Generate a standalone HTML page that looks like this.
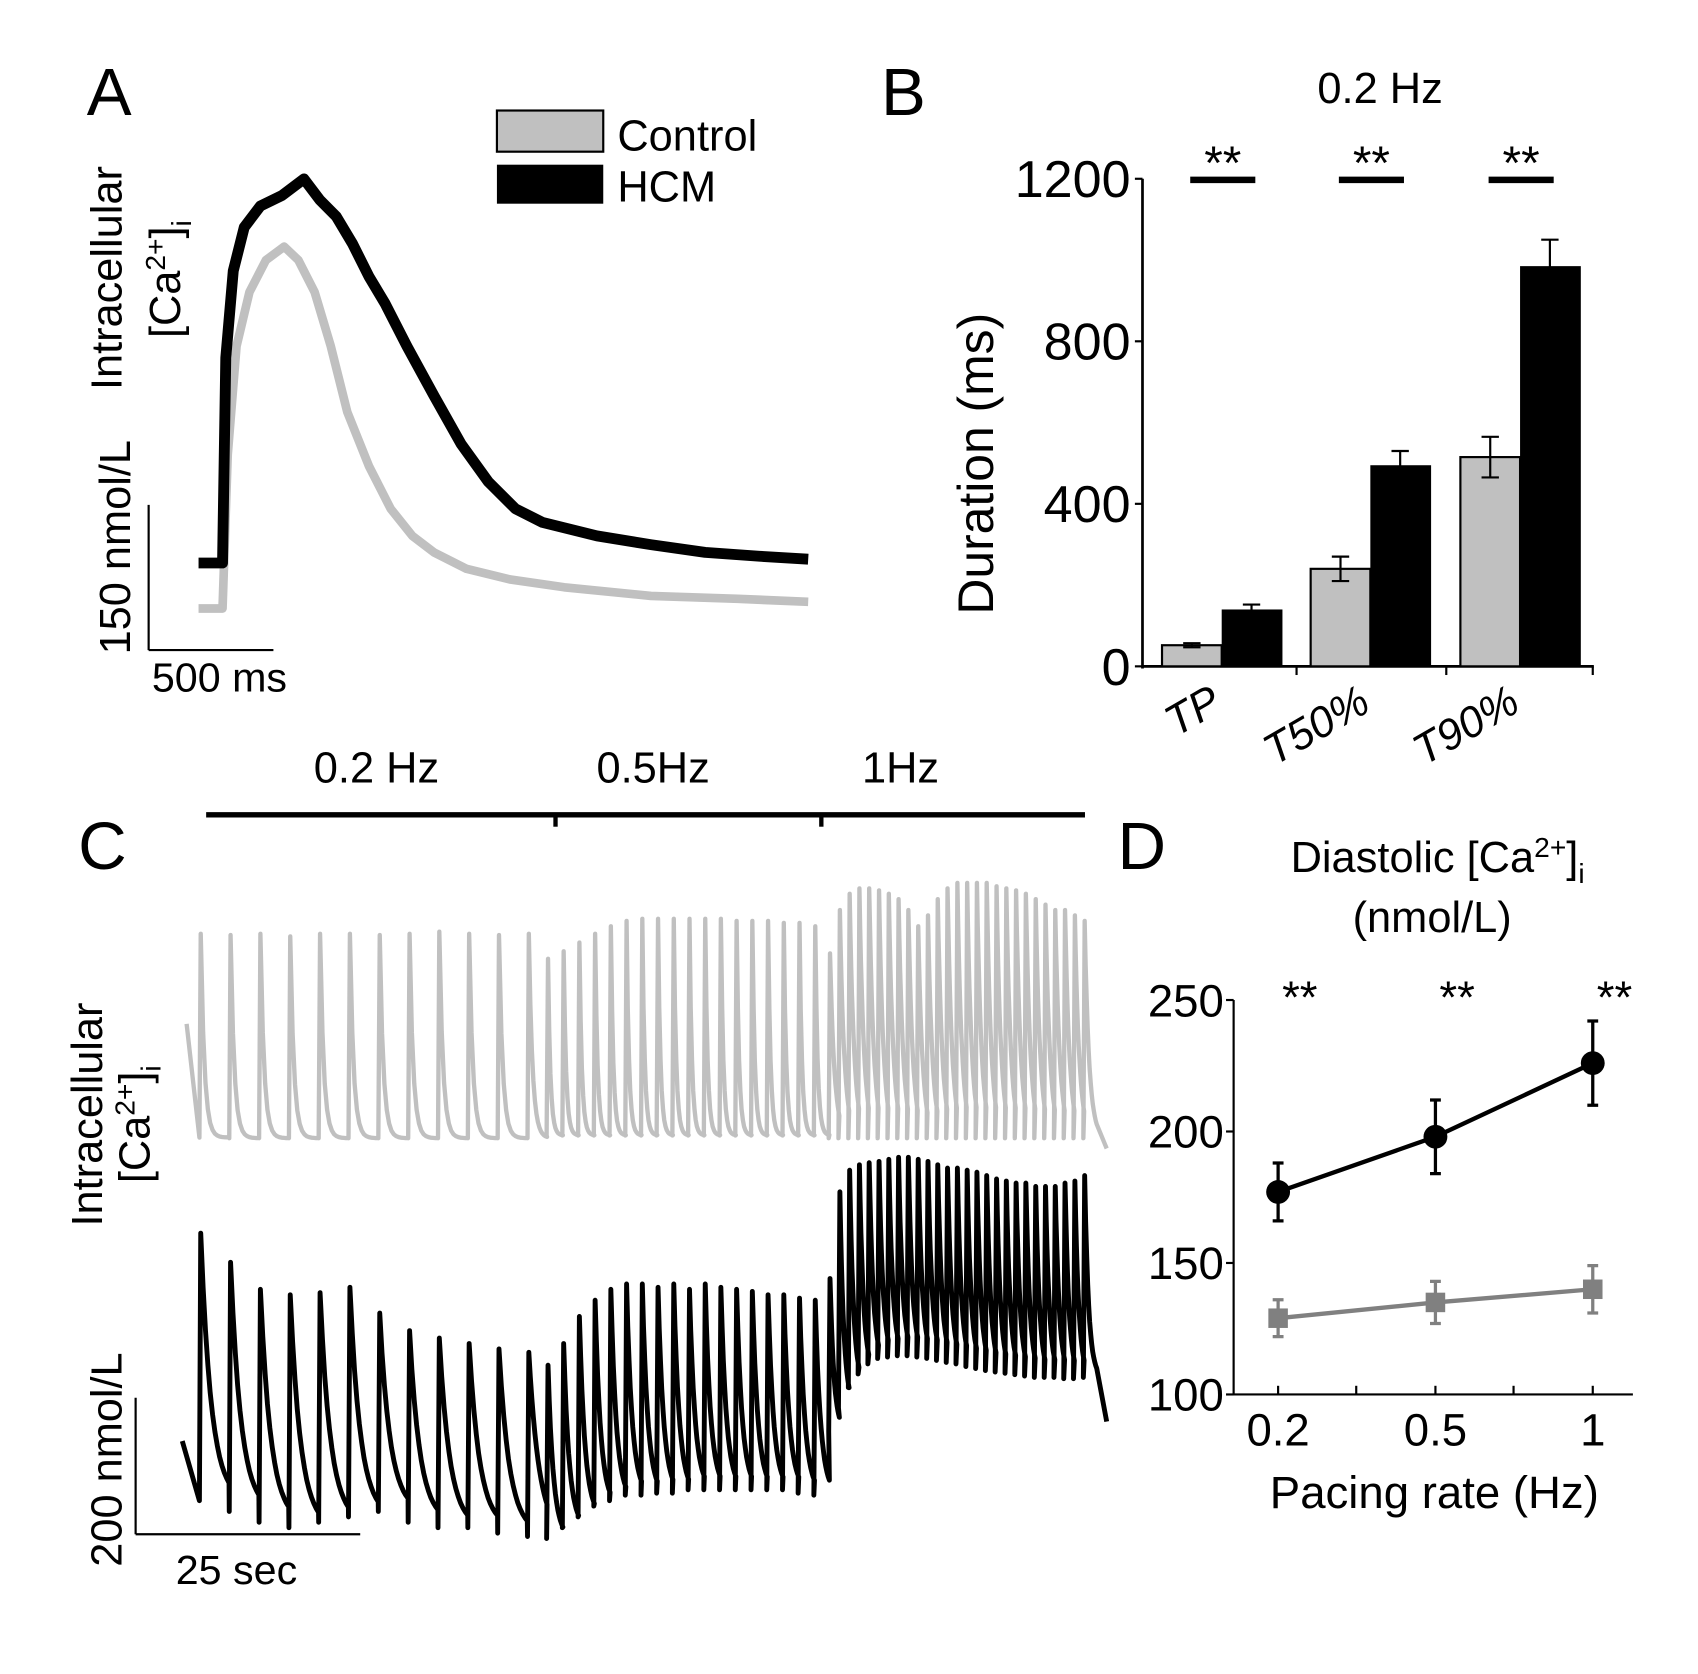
<!DOCTYPE html>
<html><head><meta charset="utf-8"><style>
html,body{margin:0;padding:0;background:#fff}
svg{display:block}
text{font-family:"Liberation Sans",Arial,sans-serif;fill:#000}
</style></head><body>
<svg id="fig" width="1698" height="1674" viewBox="0 0 1565 1545" preserveAspectRatio="none" xmlns="http://www.w3.org/2000/svg">
<rect x="0" y="0" width="1565" height="1545" fill="#fff"/>
<!-- Panel A -->
<g>
<text x="80" y="106" font-size="62">A</text>
<rect x="458" y="102" width="98" height="38" fill="#c0c0c0" stroke="#000" stroke-width="2"/>
<text x="569" y="139" font-size="40">Control</text>
<rect x="458" y="152" width="98" height="36" fill="#000"/>
<text x="569" y="186" font-size="40">HCM</text>
<g id="traceA"></g>
<line x1="137" y1="466" x2="137" y2="600" stroke="#000" stroke-width="2"/>
<line x1="137" y1="600" x2="252" y2="600" stroke="#000" stroke-width="2"/>
<text x="140" y="638" font-size="38">500 ms</text>
<text transform="translate(120,604) rotate(-90)" font-size="40">150 nmol/L</text>
<text transform="translate(112,360) rotate(-90)" font-size="40">Intracellular</text>
<text transform="translate(166,312) rotate(-90)" font-size="40">[Ca<tspan font-size="26" dy="-14">2+</tspan><tspan dy="14">]</tspan><tspan font-size="26" dy="10">i</tspan></text>
</g>
<!-- Panel B -->
<g>
<text x="812" y="106" font-size="62">B</text>
<text x="1272" y="95" font-size="40" text-anchor="middle">0.2 Hz</text>
<g id="chartB"></g>
<text transform="translate(915,428) rotate(-90)" font-size="46" text-anchor="middle">Duration (ms)</text>
</g>
<!-- Panel C -->
<g>
<text x="72" y="802" font-size="62">C</text>
<line x1="190" y1="752" x2="1000" y2="752" stroke="#000" stroke-width="5"/>
<line x1="512" y1="750" x2="512" y2="763" stroke="#000" stroke-width="4"/>
<line x1="757" y1="750" x2="757" y2="763" stroke="#000" stroke-width="4"/>
<text x="347" y="722" font-size="40" text-anchor="middle">0.2 Hz</text>
<text x="602" y="722" font-size="40" text-anchor="middle">0.5Hz</text>
<text x="830" y="722" font-size="40" text-anchor="middle">1Hz</text>
<g id="traceC"></g>
<line x1="125" y1="1290" x2="125" y2="1416" stroke="#000" stroke-width="2"/>
<line x1="125" y1="1416" x2="332" y2="1416" stroke="#000" stroke-width="2"/>
<text x="162" y="1462" font-size="38">25 sec</text>
<text transform="translate(112,1446) rotate(-90)" font-size="40">200 nmol/L</text>
<text transform="translate(94,1132) rotate(-90)" font-size="40">Intracellular</text>
<text transform="translate(138,1092) rotate(-90)" font-size="40">[Ca<tspan font-size="26" dy="-14">2+</tspan><tspan dy="14">]</tspan><tspan font-size="26" dy="10">i</tspan></text>
</g>
<!-- Panel D -->
<g>
<text x="1030" y="802" font-size="62">D</text>
<text x="1325" y="805" font-size="40" text-anchor="middle">Diastolic [Ca<tspan font-size="26" dy="-14">2+</tspan><tspan dy="14">]</tspan><tspan font-size="26" dy="10">i</tspan></text>
<text x="1320" y="860" font-size="40" text-anchor="middle">(nmol/L)</text>
<g id="chartD"></g>
<text x="1322" y="1392" font-size="42" text-anchor="middle">Pacing rate (Hz)</text>
</g>
</svg>
<script>
// ---------- Panel A data ----------
var aHcmTime=[200,296,309,339,383,448,535,622,687,752,817,883,948,1035,1143,1252,1361,1470,1578,1796,2013,2230,2448,2643];
var aHcmVal=[90,90,302,392,437,459,470,487,465,448,420,386,358,314,263,213,174,146,132,118,109,101,97,94];
var aCtlTime=[200,296,317,352,404,470,543,600,665,730,796,883,970,1057,1143,1274,1448,1665,2013,2361,2643];
var aCtlVal=[43,43,202,314,370,403,417,403,370,314,246,190,146,118,101,84,73,65,56,53,50];
// ---------- Panel B data ----------
var bCategories=["TP","T50%","T90%"];
var bControl=[52,240,515];
var bControlErr=[5,30,50];
var bHcm=[140,495,985];
var bHcmErr=[12,35,65];
var bTicks=[0,400,800,1200];
// ---------- Panel C data (nmol/L above baseline) ----------
var cSegStart=[7.25,45.9,77.3];      // s
var cSegPeriod=[3.32,1.75,1.09];     // s
var cCtlPeaks=[
 [322,320,322,318,322,322,320,322,325,322,320,322],
 [285,296,309,322,333,341,344,344,344,344,344,344,341,341,341,338,338,333],
 [293,357,381,389,389,386,381,373,357,333,349,373,389,397,397,397,397,392,389,386,381,373,365,357,357,349,341]];
var cCtlTroughs=[
 [21,20,20,20,20,20,20,20,20,20,20,20],
 [24,24,24,24,24,24,24,24,24,24,24,24,24,24,24,24,24,24],
 [20,20,20,20,20,20,20,20,20,20,20,20,20,20,20,20,20,20,20,20,20,20,20,20,20,20,20]];
var cHcmPeaks=[
 [443,400,360,352,355,363,325,299,288,280,272,267],
 [248,280,320,344,360,368,368,363,368,360,368,363,360,357,352,352,347,344],
 [376,504,536,544,547,549,552,555,555,552,549,544,539,539,536,533,528,523,520,517,517,512,512,512,517,520,528]];
var cHcmTroughs=[
 [48,32,16,8,16,24,32,16,8,8,0,-5],
 [-8,8,24,40,48,56,56,59,59,64,64,64,64,64,64,64,59,56],
 [150,185,215,235,250,258,260,262,262,260,258,255,252,250,246,243,240,238,236,234,232,230,230,230,228,228,230]];
// ---------- Panel D data ----------
var dCategories=["0.2","0.5","1"];
var dHcm=[177,198,226];
var dHcmErr=[11,14,16];
var dCtl=[129,135,140];
var dCtlErr=[7,8,9];
var dTicks=[100,150,200,250];

var NS="http://www.w3.org/2000/svg";
function mk(tag,attrs,parent){var e=document.createElementNS(NS,tag);for(var k in attrs)e.setAttribute(k,attrs[k]);parent.appendChild(e);return e;}

// Panel A
(function(){
 var g=document.getElementById('traceA');
 function ax(t){return 137+t*0.23;} function ay(v){return 600-v*0.893;}
 function path(T,V){var d='';for(var i=0;i<T.length;i++)d+=(i?'L':'M')+ax(T[i]).toFixed(1)+','+ay(V[i]).toFixed(1);return d;}
 var p1=mk('path',{d:path(aCtlTime,aCtlVal),fill:'none',stroke:'#c0c0c0','stroke-width':8,'stroke-linejoin':'round'},g);
 
 
 var p2=mk('path',{d:path(aHcmTime,aHcmVal),fill:'none',stroke:'#000','stroke-width':10,'stroke-linejoin':'round'},g);
 
 
})();

// Panel B
(function(){
 var g=document.getElementById('chartB');
 function by(v){return 615-v*0.375;}
 var groupX=[1071,1208,1346];
 var w=55;
 var yl=mk('line',{x1:1053,y1:by(1200),x2:1053,y2:617,stroke:'#000','stroke-width':2.5},g);
 
 
 var xl=mk('line',{x1:1052,y1:615,x2:1469,y2:615,stroke:'#000','stroke-width':2.5},g);
 
 
 bTicks.forEach(function(t){
  var l=mk('line',{x1:1046,y1:by(t),x2:1053,y2:by(t),stroke:'#000','stroke-width':2},g);
  
  
  var tx=mk('text',{x:1042,y:by(t)+17,'font-size':48,'text-anchor':'end'},g);tx.textContent=t;
  
  
 });
 [1195,1333,1468].forEach(function(x){var l=mk('line',{x1:x,y1:615,x2:x,y2:623,stroke:'#000','stroke-width':2},g);
  
  });
 bCategories.forEach(function(c,i){
  var x0=groupX[i];
  var r1=mk('rect',{x:x0,y:by(bControl[i]),width:w,height:615-by(bControl[i]),fill:'#c0c0c0',stroke:'#000','stroke-width':2},g);
  
  
  var r2=mk('rect',{x:x0+w,y:by(bHcm[i]),width:w+1,height:615-by(bHcm[i]),fill:'#000'},g);
  
  
  [[x0+w/2,bControl[i],bControlErr[i]],[x0+w*1.5,bHcm[i],bHcmErr[i]]].forEach(function(e){
   var el=mk('path',{d:'M'+e[0]+','+by(e[1]+e[2])+'V'+by(e[1]-e[2])+'M'+(e[0]-8)+','+by(e[1]+e[2])+'h16M'+(e[0]-8)+','+by(e[1]-e[2])+'h16',stroke:'#000','stroke-width':2,fill:'none'},g);
   
   
  });
  var sb=mk('line',{x1:x0+26,y1:166,x2:x0+86,y2:166,stroke:'#000','stroke-width':6},g);
  
  
  var st=mk('text',{x:x0+56,y:165,'font-size':44,'text-anchor':'middle'},g);st.textContent='**';
  
  
  var lx=x0+w+2, tl=mk('text',{transform:'translate('+lx+',655) rotate(-30)','font-size':40,'font-style':'italic','text-anchor':'end'},g);tl.textContent=c;
  
  
 });
})();

// Panel C
(function(){
 var g=document.getElementById('traceC');
 function cx(t){return 125+t*8.28;}
 function trace(peaks,troughs,base,startPt,endPt,tauF){
  var d='M'+startPt[0]+','+startPt[1];
  for(var s=0;s<3;s++){
   var P=cSegPeriod[s];
   for(var i=0;i<peaks[s].length;i++){
    var tp=cSegStart[s]+i*P;
    var pk=peaks[s][i], tr=troughs[s][i];
    var nextT=(i<peaks[s].length-1)?P:(s<2?cSegStart[s+1]-tp:P*1.3);
    d+='L'+cx(tp-0.15).toFixed(1)+','+(base-tr*0.625).toFixed(1);
    d+='L'+cx(tp).toFixed(1)+','+(base-pk*0.625).toFixed(1);
    var n=12,tau=P*tauF[s];
    for(var k=1;k<=n;k++){var dt=nextT*0.95*k/n;var v=tr+(pk-tr)*Math.exp(-dt/tau);
     d+='L'+cx(tp+dt).toFixed(1)+','+(base-v*0.625).toFixed(1);}
   }
  }
  d+='L'+endPt[0]+','+endPt[1];
  return d;
 }
 var p1=mk('path',{d:trace(cCtlPeaks,cCtlTroughs,1063,[172,945],[1020,1060],[0.12,0.15,0.45]),fill:'none',stroke:'#c0c0c0','stroke-width':4,'stroke-linejoin':'round'},g);
 
 
 var p2=mk('path',{d:trace(cHcmPeaks,cHcmTroughs,1415,[168,1330],[1020,1312],[0.35,0.35,0.4]),fill:'none',stroke:'#000','stroke-width':4.5,'stroke-linejoin':'round'},g);
 
 
})();

// Panel D
(function(){
 var g=document.getElementById('chartD');
 function dy(v){return 1287-(v-100)*2.427;}
 var xs=[1178,1323,1468];
 var yl=mk('line',{x1:1137,y1:dy(250),x2:1137,y2:1288,stroke:'#000','stroke-width':2},g);
 
 
 var xl=mk('line',{x1:1136,y1:1287,x2:1505,y2:1287,stroke:'#000','stroke-width':2},g);
 
 
 dTicks.forEach(function(t){
  var l=mk('line',{x1:1130,y1:dy(t),x2:1137,y2:dy(t),stroke:'#000','stroke-width':2},g);
  
  
  var tx=mk('text',{x:1128,y:dy(t)+15,'font-size':42,'text-anchor':'end'},g);tx.textContent=t;
  
  
 });
 [1178,1250,1323,1395,1468].forEach(function(x){var l=mk('line',{x1:x,y1:1287,x2:x,y2:1279,stroke:'#000','stroke-width':2},g);
  
  });
 dCategories.forEach(function(c,i){var t=mk('text',{x:xs[i],y:1334,'font-size':42,'text-anchor':'middle'},g);t.textContent=c;
  
  
  var s=mk('text',{x:xs[i]+20,y:935,'font-size':42,'text-anchor':'middle'},g);s.textContent='**';
  
  });
 function series(vals,errs,color,marker,name){
  var d='';vals.forEach(function(v,i){d+=(i?'L':'M')+xs[i]+','+dy(v);});
  var ln=mk('path',{d:d,fill:'none',stroke:color,'stroke-width':4},g);
  
  
  vals.forEach(function(v,i){
   var x=xs[i],e=errs[i];
   var eb=mk('path',{d:'M'+x+','+dy(v+e)+'V'+dy(v-e)+'M'+(x-5)+','+dy(v+e)+'h10M'+(x-5)+','+dy(v-e)+'h10',stroke:color,'stroke-width':3,fill:'none'},g);
   
   
   var m;
   if(marker==='circle') m=mk('circle',{cx:x,cy:dy(v),r:11,fill:color},g);
   else m=mk('rect',{x:x-9,y:dy(v)-9,width:18,height:18,fill:color},g);
   
   
  });
 }
 series(dCtl,dCtlErr,'#808080','square','control');
 series(dHcm,dHcmErr,'#000','circle','hcm');
})();
</script>
</body></html>
